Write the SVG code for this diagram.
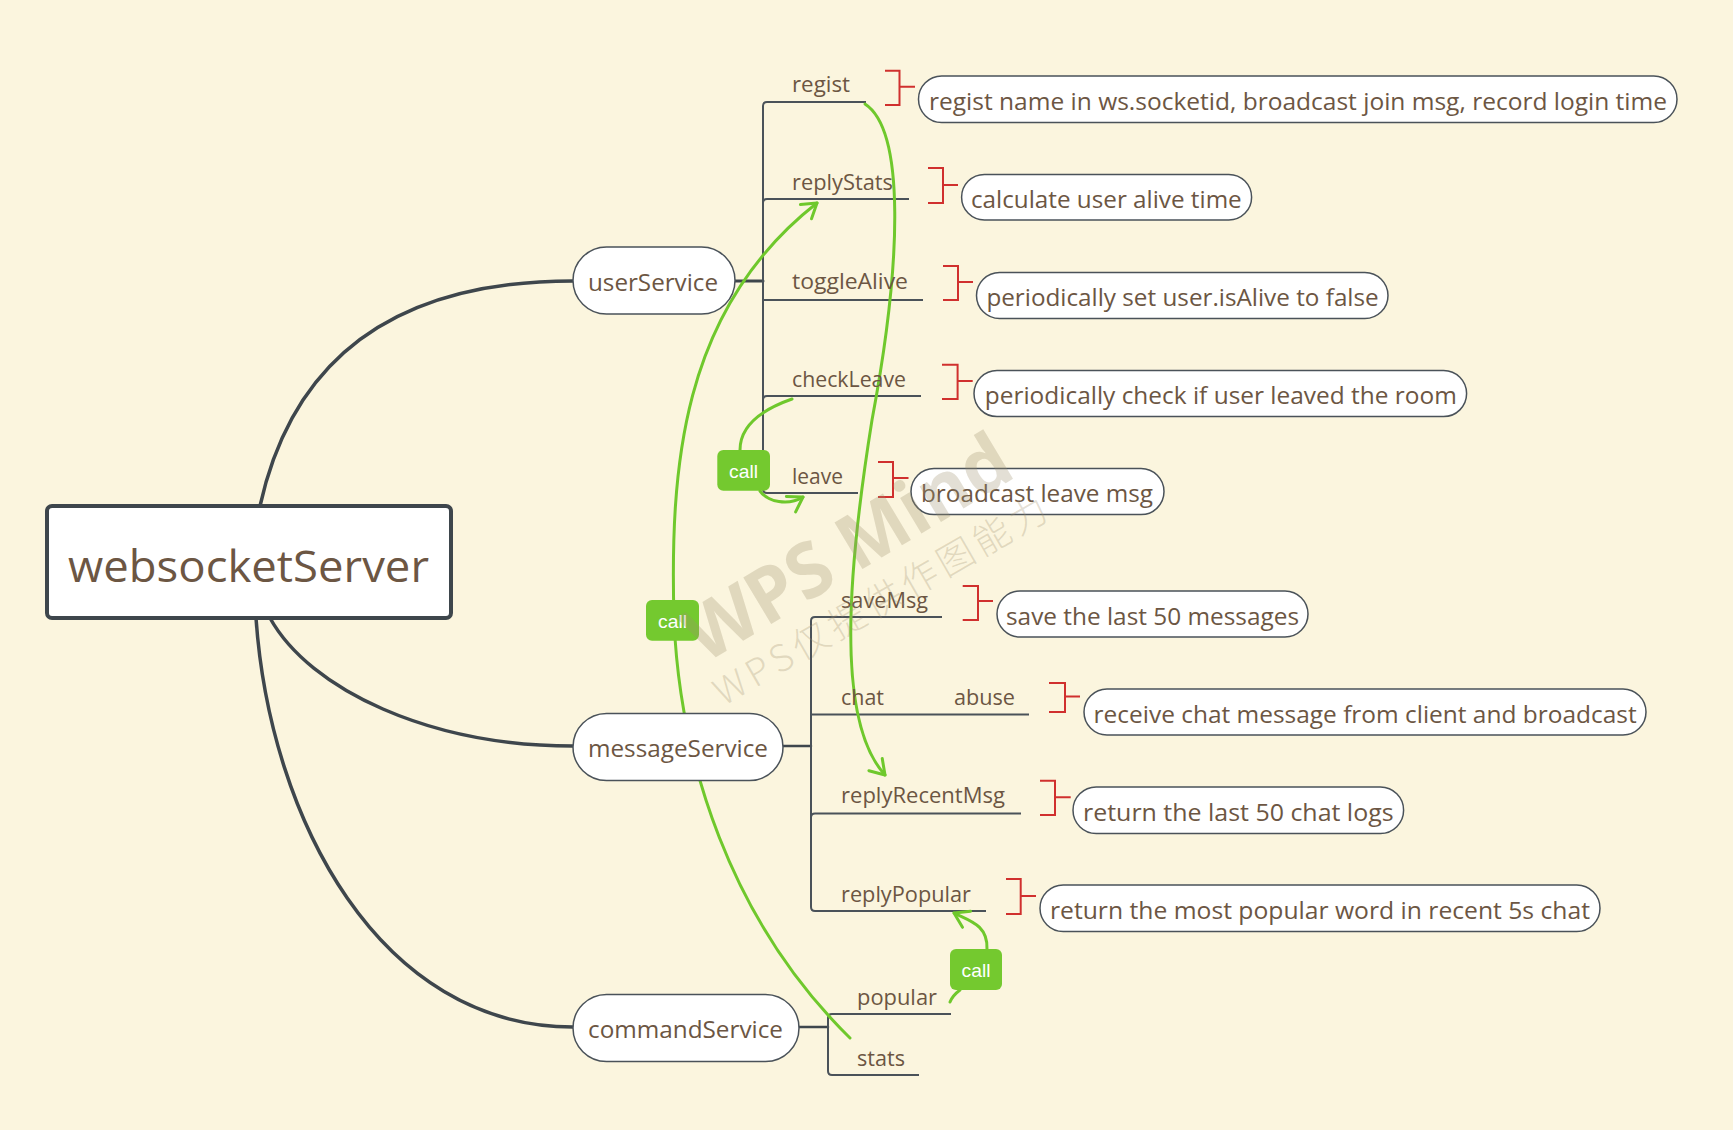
<svg xmlns="http://www.w3.org/2000/svg" width="1733" height="1130" viewBox="0 0 1733 1130">
<style>
.bg{fill:#FBF5DE}
.branch{fill:none;stroke:#3E464C;stroke-width:3.5;stroke-linecap:round}
.tree{fill:none;stroke:#4A5259;stroke-width:2}
.pill{fill:#FFFFFF;stroke:#4A5259;stroke-width:1.5}
.rootbox{fill:#FFFFFF;stroke:#3E464C;stroke-width:4}
.lbl{font-family:"Open Sans","Noto Sans",sans-serif;font-size:22px;fill:#6C5643}
.note{font-family:"Open Sans","Noto Sans",sans-serif;font-size:24px;fill:#6C5643}
.svc{font-family:"Open Sans","Noto Sans",sans-serif;font-size:24px;fill:#6C5643}
.roottxt{font-family:"Open Sans","Noto Sans",sans-serif;font-size:44px;fill:#6C5643}
.bracket{fill:none;stroke:#D0302E;stroke-width:2}
.call{fill:#74C92F}
.calltxt{font-family:"Liberation Sans",Arial,sans-serif;font-size:19px;fill:#FFFFFF;text-anchor:middle}
.rel{fill:none;stroke:#6FC82C;stroke-width:3;stroke-linecap:round}
.wm{fill:#A0916E;fill-opacity:0.29}
</style>
<defs>
<marker id="arr" markerUnits="userSpaceOnUse" viewBox="-17 -12 21 24" refX="0" refY="0" markerWidth="21" markerHeight="24" orient="auto">
<path d="M-14,-9 L0,0 L-14,9" fill="none" stroke="#6FC82C" stroke-width="3" stroke-linecap="round" stroke-linejoin="round"/>
</marker>
</defs>
<rect class="bg" x="0" y="0" width="1733" height="1130"/>

<g id="connectors">
<path class="branch" d="M260,506 C299,330 430,281 573,281"/>
<path class="branch" d="M270,618 C310,690 430,746 573,746"/>
<path class="branch" d="M256,618 C270,820 380,1027 573,1027"/>
<path class="branch" d="M735,281 H763" style="stroke-width:3"/>
<path class="branch" d="M783,746 H811" style="stroke-width:2.5"/>
<path class="branch" d="M799,1027 H828" style="stroke-width:2.5"/>
<path class="tree" d="M866,102 H767 Q763,102 763,106 V489 Q763,493 767,493 H858"/>
<path class="tree" d="M763,203 Q763,199 767,199 H909"/>
<path class="tree" d="M763,300 H923"/>
<path class="tree" d="M763,400 Q763,396 767,396 H921"/>
<path class="tree" d="M942,617 H815 Q811,617 811,621 V907 Q811,911 815,911 H986"/>
<path class="tree" d="M811,714.5 H899"/>
<path class="tree" d="M899,714.5 H1029"/>
<path class="tree" d="M811,817.5 Q811,813.5 815,813.5 H1021"/>
<path class="tree" d="M951,1014 H832 Q828,1014 828,1018 V1071 Q828,1075 832,1075 H919"/>

<path class="rel" d="M865,104 C905,130 902,260 872,420 C848,570 835,720 885,775" marker-end="url(#arr)"/>
<path class="rel" d="M850,1038 C730,920 680,760 674,620 C670,470 680,310 817,203" marker-end="url(#arr)"/>
<path class="rel" d="M792,399 C755,412 740,430 740,450"/>
<path class="rel" d="M760,491 C768,502 788,506 803,497" marker-end="url(#arr)"/>
<path class="rel" d="M950,1002 C952,997 956,993 960,990"/>
<path class="rel" d="M987,949 C988,925 970,921 954,913" marker-end="url(#arr)"/>

<g id="call-leave"><rect class="call" x="717.3" y="450" width="52.7" height="40.7" rx="6"/><text class="calltxt" x="743.6" y="477.5" textLength="29" lengthAdjust="spacingAndGlyphs">call</text></g>
<g id="call-stats"><rect class="call" x="646" y="600" width="53" height="40.7" rx="6"/><text class="calltxt" x="672.5" y="627.5" textLength="29" lengthAdjust="spacingAndGlyphs">call</text></g>
<g id="call-popular"><rect class="call" x="950" y="949" width="52" height="41" rx="6"/><text class="calltxt" x="976" y="977" textLength="29" lengthAdjust="spacingAndGlyphs">call</text></g>
</g>

<g id="websocketServer">
<rect class="rootbox" x="47" y="506" width="404" height="112" rx="5"/>
<text class="roottxt" x="68" y="582" textLength="361" lengthAdjust="spacingAndGlyphs">websocketServer</text>
</g>

<g id="userService">
<rect class="pill" x="573" y="247" width="162" height="67" rx="33.5"/>
<text class="svc" x="588" y="291" textLength="130" lengthAdjust="spacingAndGlyphs">userService</text>
</g>
<g id="messageService">
<rect class="pill" x="573" y="713.5" width="210" height="67" rx="33.5"/>
<text class="svc" x="588" y="757" textLength="180" lengthAdjust="spacingAndGlyphs">messageService</text>
</g>
<g id="commandService">
<rect class="pill" x="573" y="994.5" width="226" height="67" rx="33.5"/>
<text class="svc" x="588" y="1038" textLength="195" lengthAdjust="spacingAndGlyphs">commandService</text>
</g>

<g id="regist"><text class="lbl" x="792" y="92" textLength="58" lengthAdjust="spacingAndGlyphs">regist</text></g>
<g id="replyStats"><text class="lbl" x="792" y="190" textLength="101" lengthAdjust="spacingAndGlyphs">replyStats</text></g>
<g id="toggleAlive"><text class="lbl" x="792" y="289" textLength="116" lengthAdjust="spacingAndGlyphs">toggleAlive</text></g>
<g id="checkLeave"><text class="lbl" x="792" y="387" textLength="114" lengthAdjust="spacingAndGlyphs">checkLeave</text></g>
<g id="leave"><text class="lbl" x="792" y="484" textLength="51" lengthAdjust="spacingAndGlyphs">leave</text></g>
<g id="saveMsg"><text class="lbl" x="841" y="608" textLength="87" lengthAdjust="spacingAndGlyphs">saveMsg</text></g>
<g id="chat"><text class="lbl" x="841" y="705" textLength="43" lengthAdjust="spacingAndGlyphs">chat</text></g>
<g id="abuse"><text class="lbl" x="954" y="705" textLength="61" lengthAdjust="spacingAndGlyphs">abuse</text></g>
<g id="replyRecentMsg"><text class="lbl" x="841" y="803" textLength="164" lengthAdjust="spacingAndGlyphs">replyRecentMsg</text></g>
<g id="replyPopular"><text class="lbl" x="841" y="902" textLength="130" lengthAdjust="spacingAndGlyphs">replyPopular</text></g>
<g id="popular"><text class="lbl" x="857" y="1005" textLength="80" lengthAdjust="spacingAndGlyphs">popular</text></g>
<g id="stats"><text class="lbl" x="857" y="1066" textLength="48" lengthAdjust="spacingAndGlyphs">stats</text></g>

<g id="note-regist">
<path class="bracket" d="M885,70.7 H899.5 V105 H885 M899.5,86.7 H915"/>
<rect class="pill" x="918.5" y="76" width="758.5" height="46.5" rx="23.2"/>
<text class="note" x="929" y="110" textLength="738" lengthAdjust="spacingAndGlyphs">regist name in ws.socketid, broadcast join msg, record login time</text>
</g>
<g id="note-replyStats">
<path class="bracket" d="M928,168 H943 V203 H928 M943,185 H958"/>
<rect class="pill" x="961.6" y="174.4" width="290" height="45.6" rx="22.8"/>
<text class="note" x="971" y="208" textLength="270.7" lengthAdjust="spacingAndGlyphs">calculate user alive time</text>
</g>
<g id="note-toggleAlive">
<path class="bracket" d="M943,266 H958 V300 H943 M958,282 H973"/>
<rect class="pill" x="976.5" y="272.4" width="411.5" height="46.2" rx="23.1"/>
<text class="note" x="986.4" y="306" textLength="392.3" lengthAdjust="spacingAndGlyphs">periodically set user.isAlive to false</text>
</g>
<g id="note-checkLeave">
<path class="bracket" d="M942,364.7 H957.6 V399 H942 M957.6,381 H972.7"/>
<rect class="pill" x="974" y="370.5" width="492.6" height="46.1" rx="23"/>
<text class="note" x="984.8" y="404" textLength="472" lengthAdjust="spacingAndGlyphs">periodically check if user leaved the room</text>
</g>
<g id="note-leave">
<path class="bracket" d="M878,462 H893 V497 H878 M893,478 H908.5"/>
<rect class="pill" x="911" y="468.5" width="253" height="46.1" rx="23"/>
<text class="note" x="921" y="502" textLength="232" lengthAdjust="spacingAndGlyphs">broadcast leave msg</text>
</g>
<g id="note-saveMsg">
<path class="bracket" d="M962.7,586 H978 V620 H962.7 M978,601 H993"/>
<rect class="pill" x="997" y="591" width="311" height="46" rx="23"/>
<text class="note" x="1006" y="624.5" textLength="293" lengthAdjust="spacingAndGlyphs">save the last 50 messages</text>
</g>
<g id="note-abuse">
<path class="bracket" d="M1049,683 H1065 V712 H1049 M1065,696.5 H1080"/>
<rect class="pill" x="1084" y="689" width="562" height="46" rx="23"/>
<text class="note" x="1093.6" y="722.5" textLength="543" lengthAdjust="spacingAndGlyphs">receive chat message from client and broadcast</text>
</g>
<g id="note-replyRecentMsg">
<path class="bracket" d="M1040,780.7 H1055 V815 H1040 M1055,797.3 H1070.7"/>
<rect class="pill" x="1073" y="787" width="330.6" height="46.5" rx="23.2"/>
<text class="note" x="1083" y="820.5" textLength="310.6" lengthAdjust="spacingAndGlyphs">return the last 50 chat logs</text>
</g>
<g id="note-replyPopular">
<path class="bracket" d="M1006,879 H1020.7 V914 H1006 M1020.7,896 H1036"/>
<rect class="pill" x="1040" y="885" width="560" height="46.5" rx="23.2"/>
<text class="note" x="1050" y="918.5" textLength="540" lengthAdjust="spacingAndGlyphs">return the most popular word in recent 5s chat</text>
</g>

<g id="watermark">
<text class="wm" x="861" y="570" transform="rotate(-31 861 570)" text-anchor="middle" font-family="'Open Sans','Noto Sans',sans-serif" font-weight="bold" font-size="76" textLength="366" lengthAdjust="spacingAndGlyphs">WPS Mind</text>
<text class="wm" x="887" y="612" transform="rotate(-30 887 612)" text-anchor="middle" font-family="'Noto Sans CJK SC','Noto Sans',sans-serif" font-weight="300" font-size="37" textLength="378" lengthAdjust="spacing">WPS仅提供作图能力</text>
</g>
</svg>
